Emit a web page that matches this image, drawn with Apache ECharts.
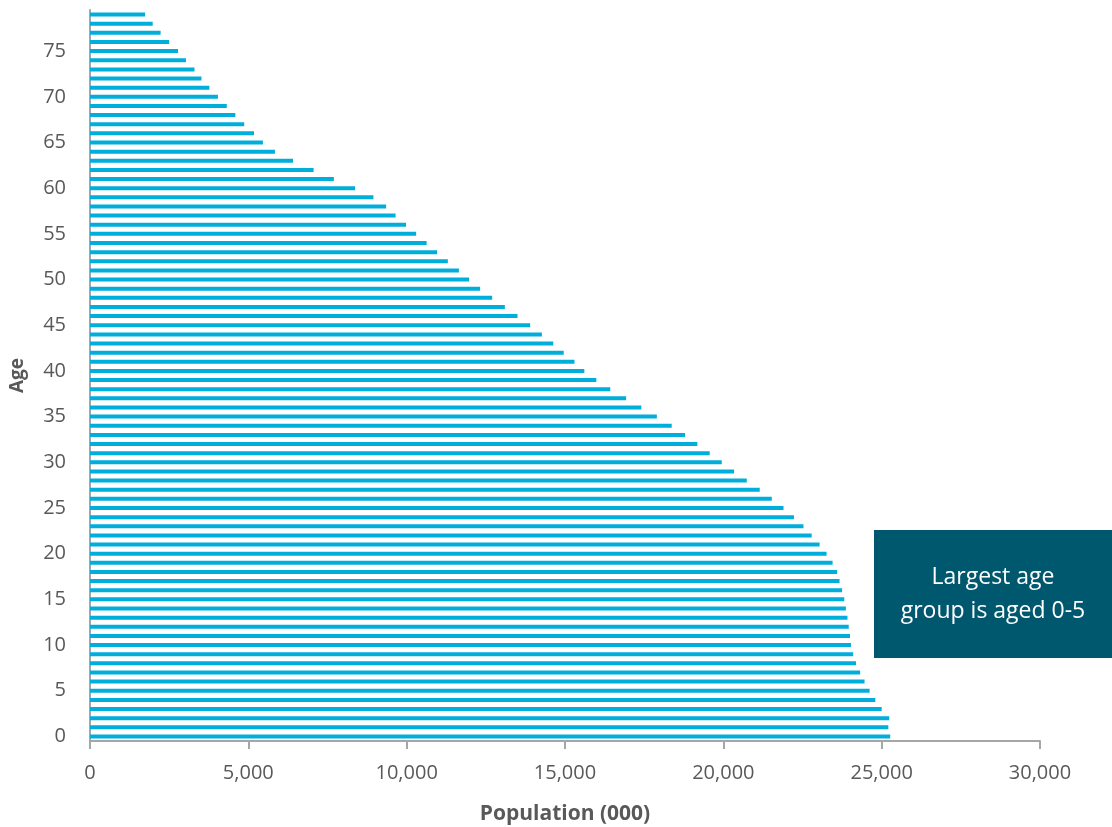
<!DOCTYPE html>
<html>
<head>
<meta charset="utf-8">
<title>Population by age</title>
<script src="https://cdn.jsdelivr.net/npm/echarts@6/dist/echarts.min.js"></script>
<style>
  html, body { margin: 0; padding: 0; background: #ffffff; }
  #chart { width: 1112px; height: 827px; }
</style>
</head>
<body>
<div id="chart"></div>
<script>
// Single-year ages 0..79
const ages = [
  0, 1, 2, 3, 4, 5, 6, 7, 8, 9,
  10, 11, 12, 13, 14, 15, 16, 17, 18, 19,
  20, 21, 22, 23, 24, 25, 26, 27, 28, 29,
  30, 31, 32, 33, 34, 35, 36, 37, 38, 39,
  40, 41, 42, 43, 44, 45, 46, 47, 48, 49,
  50, 51, 52, 53, 54, 55, 56, 57, 58, 59,
  60, 61, 62, 63, 64, 65, 66, 67, 68, 69,
  70, 71, 72, 73, 74, 75, 76, 77, 78, 79
];

// Population (thousands) for each age, in the same order as `ages`
const population = [
  25270, 25210, 25240, 25000, 24800, 24620, 24460, 24320, 24190, 24100,
  24030, 24000, 23960, 23920, 23870, 23820, 23750, 23670, 23590, 23450,
  23260, 23040, 22790, 22530, 22230, 21900, 21530, 21150, 20740, 20340,
  19950, 19570, 19180, 18790, 18370, 17900, 17410, 16930, 16430, 15990,
  15610, 15300, 14960, 14630, 14270, 13900, 13500, 13100, 12700, 12320,
  11970, 11650, 11300, 10960, 10630, 10300, 9980, 9650, 9350, 8950,
  8370, 7700, 7060, 6410, 5840, 5460, 5180, 4870, 4590, 4320,
  4040, 3770, 3520, 3300, 3030, 2780, 2500, 2230, 1980, 1740
];

// Value-axis ticks (thousands)
const xTicks = [0, 5000, 10000, 15000, 20000, 25000, 30000];

const calloutLines = ['Largest age', 'group is aged 0-5'];

const FONT = '"Open Sans", "Liberation Sans", sans-serif';
const GREY_TEXT = '#595959';
const AXIS_GREY = '#A6A6A6';

const chart = echarts.init(document.getElementById('chart'), null, { renderer: 'canvas' });

chart.setOption({
  backgroundColor: '#ffffff',
  animation: false,
  grid: { left: 90, right: 72, top: 10, bottom: 86, containLabel: false, outerBoundsMode: 'none' },
  xAxis: {
    type: 'value',
    min: xTicks[0],
    max: xTicks[xTicks.length - 1],
    interval: xTicks[1] - xTicks[0],
    name: 'Population (000)',
    nameLocation: 'middle',
    nameGap: 63,
    nameTextStyle: { color: GREY_TEXT, fontFamily: FONT, fontSize: 21, fontWeight: 'bold' },
    axisLine: { show: true, lineStyle: { color: AXIS_GREY, width: 2 } },
    axisTick: { show: true, length: 8, lineStyle: { color: AXIS_GREY, width: 2 } },
    axisLabel: {
      color: GREY_TEXT, fontFamily: FONT, fontSize: 20, margin: 22,
      formatter: v => v.toLocaleString('en-US')
    },
    splitLine: { show: false }
  },
  yAxis: {
    type: 'category',
    data: ages,
    name: 'Age',
    nameLocation: 'middle',
    nameGap: 63,
    nameRotate: 90,
    nameTextStyle: { color: GREY_TEXT, fontFamily: FONT, fontSize: 19, fontWeight: 'bold' },
    axisLine: { show: true, lineStyle: { color: AXIS_GREY, width: 2 } },
    axisTick: { show: false },
    axisLabel: {
      color: GREY_TEXT, fontFamily: FONT, fontSize: 20, margin: 24,
      interval: 4
    },
    splitLine: { show: false }
  },
  series: [{
    type: 'bar',
    data: population,
    barWidth: 4,
    itemStyle: { color: '#00AEDB' },
    silent: true
  }],
  graphic: [{
    type: 'group',
    left: 874,
    top: 530,
    children: [{
      type: 'rect',
      shape: { x: 0, y: 0, width: 238, height: 128 },
      style: { fill: '#00586E' }
    }, {
      type: 'text',
      x: 119,
      y: 64,
      style: {
        text: calloutLines.join('\n'),
        fill: '#ffffff',
        font: '23px "Open Sans", "Liberation Sans", sans-serif',
        lineHeight: 34,
        align: 'center',
        verticalAlign: 'middle'
      }
    }]
  }]
});
</script>
</body>
</html>
